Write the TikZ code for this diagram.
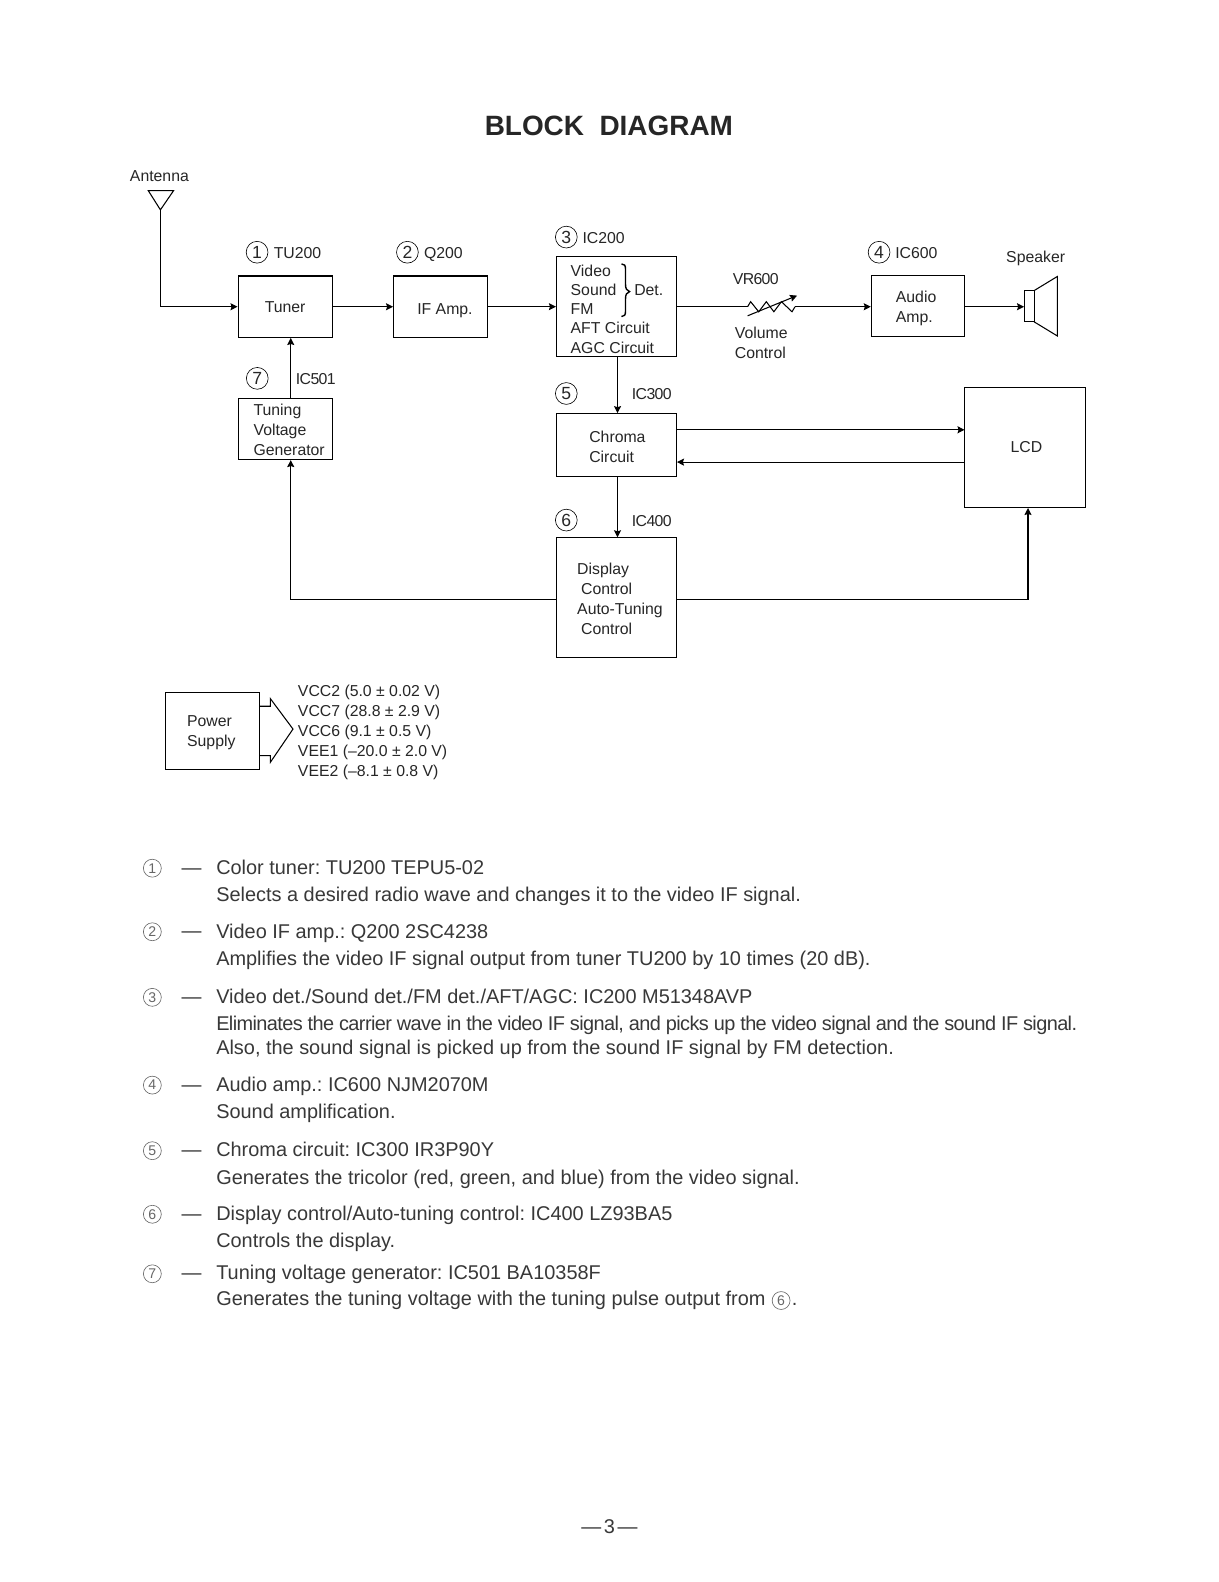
\documentclass[tikz,border=0pt]{standalone}
\usepackage{fontspec}
\usepackage{xcolor}
\setmainfont{Liberation Sans}
\frenchspacing
\usetikzlibrary{calc, positioning, arrows.meta}
\definecolor{inktext}{gray}{0.15}
\definecolor{listtext}{gray}{0.22}
\tikzset{
    blockbox/.style={draw, line width=0.6pt, align=left, text=inktext, inner sep=0pt, font=\fontsize{9}{11.4}\selectfont},
    blocklabel/.style={text=inktext, inner sep=0pt, align=left, font=\fontsize{9}{11.4}\selectfont},
    numcircle/.style={draw, circle, line width=0.35pt, minimum size=12.4pt, inner sep=0pt, text=inktext, font=\fontsize{10}{10}\selectfont},
    listcircle/.style={draw=black!60, circle, line width=0.35pt, minimum size=10.2pt, inner sep=0pt, text=black!60, font=\fontsize{8}{8}\selectfont},
    listdash/.style={text=listtext, inner sep=0pt, font=\fontsize{11.34}{11.34}\selectfont},
    listitem/.style={text=listtext, inner sep=0pt, anchor=west, align=left, font=\fontsize{11.34}{15.4}\selectfont},
    wire/.style={line width=0.6pt},
}
\begin{document}
\begin{tikzpicture}[>={Stealth[length=4pt,width=4pt,inset=0.6pt]}, x=0.02018cm, y=-0.02018cm]

    % page
    \useasboundingbox (0,0) rectangle (1208,1568);
    \fill[white] (0,0) rectangle (1208,1568);

    % title
    \node[font=\fontsize{15.9}{16}\bfseries\selectfont, text=inktext, inner sep=0pt] (title) at (603.5,124.6) {BLOCK\ \ DIAGRAM};

    % blocks
    \node[blockbox, minimum width=53.6pt, minimum height=35pt] (tuner) at (282.6,304) {Tuner};
    \node[blockbox, minimum width=53.3pt, minimum height=35pt] (ifamp) at (436.5,304) {\rule{0pt}{11.1pt}\hspace*{5.2pt}IF Amp.};
    \node[blockbox, minimum width=68.3pt, minimum height=56.8pt, font=\fontsize{9}{10.9}\selectfont] (detbox) at (611,303.5) {\rule{0pt}{9.9pt}Video\\Sound\\FM\\AFT Circuit\\AGC Circuit\hspace*{4.6pt}};
    \node[blockbox, minimum width=53.3pt, minimum height=35pt] (audio) at (910,303.5) {\rule{0pt}{9.4pt}Audio\hspace*{2.3pt}\\Amp.};
    \node[blockbox, minimum width=53.6pt, minimum height=35pt] (tuning) at (282.6,425) {\rule{0pt}{7.6pt}\hspace*{4.6pt}Tuning\\\hspace*{4.6pt}Voltage\\\hspace*{4.6pt}Generator};
    \node[blockbox, minimum width=68.3pt, minimum height=35.6pt] (chroma) at (611,441) {\rule{0pt}{8.8pt}\hspace*{1.1pt}Chroma\\\hspace*{1.1pt}Circuit};
    \node[blockbox, minimum width=68.8pt, minimum height=68.3pt] (lcd) at (1016.3,443.5) {\hspace*{1.2pt}LCD};
    \node[blockbox, minimum width=68.3pt, minimum height=68.3pt] (display) at (611,592.5) {\rule{0pt}{8.2pt}\hspace*{4pt}Display\\\hspace*{6.3pt}Control\\\hspace*{4pt}Auto-Tuning\\\hspace*{6.3pt}Control};
    \node[blockbox, minimum width=53.3pt, minimum height=44.2pt] (power) at (210.5,724.5) {\rule{0pt}{8pt}Power\\Supply\hspace*{1.2pt}};

    % Det. brace
    \draw[line width=0.8pt] (616,261.6) .. controls (619,261.6) and (620,263) .. (620,267) -- (620,282)
        .. controls (620,286) and (621,288) .. (624,289) .. controls (621,290) and (620,292) .. (620,296)
        -- (620,308) .. controls (620,312) and (619,313.8) .. (616,313.8);
    \node[blocklabel] (detlabel) at (643,287.5) {Det.};

    % antenna
    \coordinate (anttip) at (159,208);
    \draw[wire] (147,189) -- (172,189) -- (anttip) -- cycle;
    \node[blocklabel] (antlabel) at (158,174.8) {Antenna};

    % volume control
    \coordinate (vrin) at (741,304);
    \coordinate (vrout) at (788,304);
    \draw[wire] (vrin) -- (744,299) -- (752,309) -- (759.5,299) -- (767,309) -- (774.5,299) -- (785,309) -- (vrout);
    \draw[wire, ->] (741,313) -- (790,293);
    \node[blocklabel, anchor=base west] (vrlabel) at (726,281.5) {\addfontfeature{LetterSpace=-4}VR600};
    \node[blocklabel, anchor=west] (vollabel) at (728,339.5) {Volume\\Control};

    % speaker
    \draw[line width=0.5pt, fill=white] (1015,288) rectangle (1025,319);
    \coordinate (spkin) at (1015,304);
    \draw[wire] (1025,288) -- (1048,274) -- (1048,333) -- (1025,319);
    \node[blocklabel] (spklabel) at (1026.5,256) {Speaker};

    % connectors
    \draw[wire, ->] (anttip) |- (tuner.west);
    \draw[wire, ->] (tuner.east) -- (ifamp.west);
    \draw[wire, ->] (ifamp.east) -- (detbox.west |- ifamp.east);
    \draw[wire] (detbox.east |- vrin) -- (vrin);
    \draw[wire, ->] (vrout) -- (audio.west |- vrout);
    \draw[wire, ->] (audio.east |- spkin) -- (spkin);
    \draw[wire, ->] ([xshift=3.2pt]tuning.north) -- ([xshift=3.2pt]tuner.south);
    \draw[wire, ->] ([xshift=0.6pt]detbox.south) -- ([xshift=0.6pt]chroma.north);
    \draw[wire, ->] ([xshift=0.6pt]chroma.south) -- ([xshift=0.6pt]display.north);
    \coordinate (lcdin) at (956,426);
    \coordinate (lcdout) at (956,458);
    \draw[wire, ->] (chroma.east |- lcdin) -- (lcdin);
    \draw[wire, ->] (lcdout) -- (chroma.east |- lcdout);
    \draw[wire, ->] ([yshift=-0.9pt]display.west) -| ([xshift=3.2pt]tuning.south);
    \draw[wire, ->] ([yshift=-0.9pt]display.east) -| ([xshift=1.5pt]lcd.south);

    % power arrow
    \draw[wire] (power.east |- 0,700) -- (268,700) -- (268,692.5) -- (290.4,722.6) -- (268,755.5) -- (268,749) -- (power.east |- 0,749);
    \node[blocklabel, anchor=west] (supplies) at (295,726) {VCC2 (5.0 ± 0.02 V)\\VCC7 (28.8 ± 2.9 V)\\VCC6 (9.1 ± 0.5 V)\\VEE1 (--20.0 ± 2.0 V)\\VEE2 (--8.1 ± 0.8 V)};

    % circled numbers of the blocks
    \foreach \nm/\x/\y/\n/\lab/\lx/\sp in {a/254.8/250/1/TU200/271/0, b/403.8/250/2/Q200/420/0, c/561.3/235/3/IC200/577/0, d/871.3/250/4/IC600/887/0, e/561.3/390/5/IC300/626/-4, f/561.3/515.5/6/IC400/626/-4, g/255/375/7/IC501/293/-4} {
        \node[numcircle] (num\nm) at (\x,\y) {\n};
        \node[blocklabel, anchor=base west] (ic\nm) at (\lx,\y+6) {\addfontfeature{LetterSpace=\sp}\lab};
    }

    % explanation list
    \foreach \nm/\y/\n in {a/860.5/1, b/923.5/2, c/988.5/3, d/1075.5/4, e/1140.5/5, f/1203.5/6, g/1262.5/7} {
        \node[listcircle] (item\nm) at (151,\y) {\n};
        \node[listdash] (dash\nm) at (190,\y+3) {---};
    }
    \node[listitem] (texta) at (214,875) {Color tuner: TU200 TEPU5-02\\Selects a desired radio wave and changes it to the video IF signal.};
    \node[listitem] (textb) at (214,938.5) {Video IF amp.: Q200 2SC4238\\Amplifies the video IF signal output from tuner TU200 by 10 times (20 dB).};
    \node[listitem, font=\fontsize{11.34}{15}\selectfont] (textc) at (214,1014.6) {Video det./Sound det./FM det./AFT/AGC: IC200 M51348AVP\\[0.6pt]{\addfontfeature{LetterSpace=-3}Eliminates the carrier wave in the video IF signal, and picks up the video signal and the sound IF signal.}\\[-1.6pt]Also, the sound signal is picked up from the sound IF signal by FM detection.};
    \node[listitem] (textd) at (214,1090) {Audio amp.: IC600 NJM2070M\\Sound amplification.};
    \node[listitem] (texte) at (214,1155) {Chroma circuit: IC300 IR3P90Y\\Generates the tricolor (red, green, and blue) from the video signal.};
    \node[listitem] (textf) at (214,1218) {Display control/Auto-tuning control: IC400 LZ93BA5\\Controls the display.};
    \node[listitem] (textg) at (214,1263) {Tuning voltage generator: IC501 BA10358F};
    \node[listitem] (textgb) at (214,1289) {Generates the tuning voltage with the tuning pulse output from};
    \node[listcircle, right=3.4pt of textgb.east] (itemrefsix) {6};
    \node[listitem, anchor=base west] (textgdot) at ([xshift=0.6pt]itemrefsix.east |- textgb.base) {.};

    % page number
    \node[listdash] (pagenum) at (604,1513) {---\hspace{1.5pt}3\hspace{1.5pt}---};

\end{tikzpicture}
\end{document}
